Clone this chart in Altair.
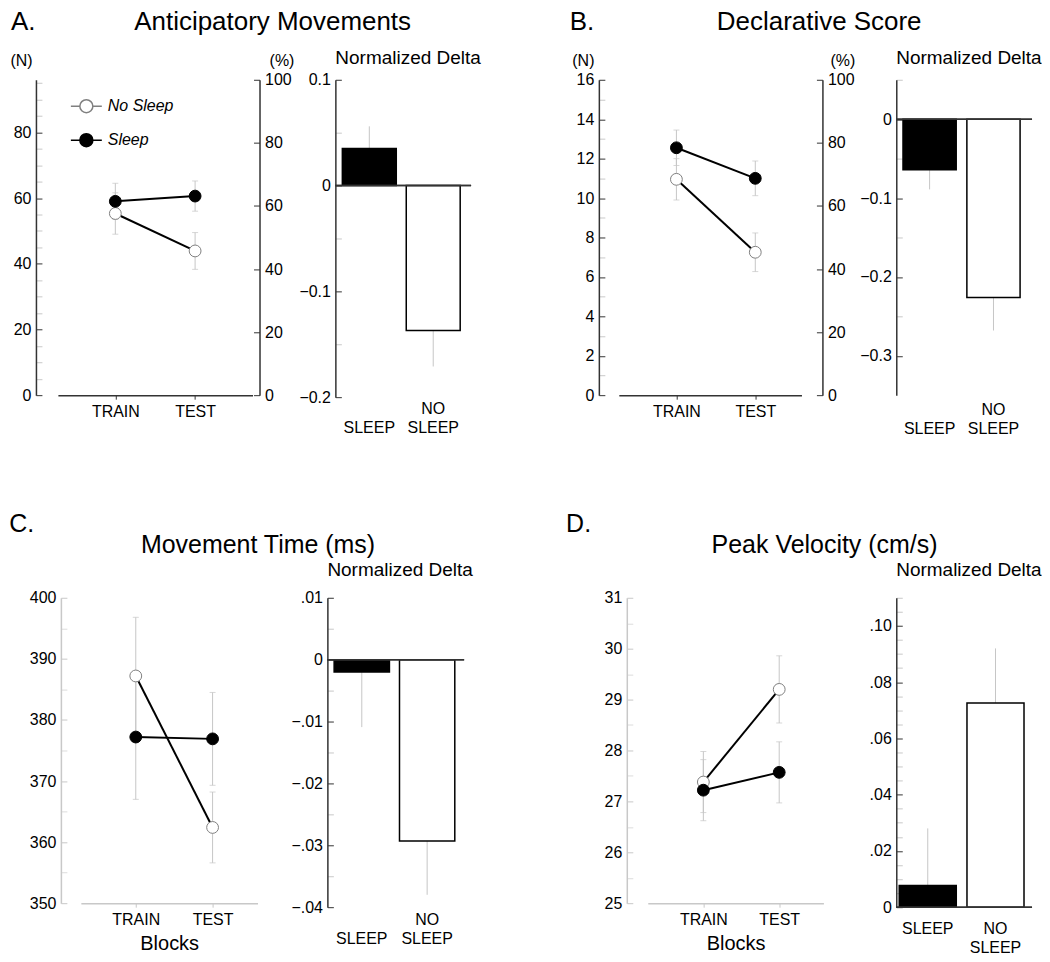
import altair as alt
import pandas as pd

FONT = "Liberation Sans"
NB = "\u00a0"
ZW = "\u200b"

blocks = ["TRAIN", "TEST"]
groups = ["No Sleep", "Sleep"]
conds = ["SLEEP", "NO SLEEP"]

# Panel A: Anticipatory Movements (N)
a_sleep = [59.0, 60.6]
a_sleep_err = [5.5, 4.6]
a_nosleep = [55.3, 43.9]
a_nosleep_err = [6.3, 5.6]
a_delta = [0.035, -0.137]
a_delta_err = [0.021, 0.034]

# Panel B: Declarative Score (N)
b_sleep = [12.55, 11.0]
b_sleep_err = [0.9, 0.88]
b_nosleep = [10.95, 7.25]
b_nosleep_err = [1.05, 0.98]
b_delta = [-0.064, -0.226]
b_delta_err = [0.025, 0.042]

# Panel C: Movement Time (ms)
c_sleep = [377.2, 376.9]
c_sleep_err = [10.2, 7.6]
c_nosleep = [387.2, 362.4]
c_nosleep_err = [9.6, 5.8]
c_delta = [-0.002, -0.0293]
c_delta_err = [0.0089, 0.0087]

# Panel D: Peak Velocity (cm/s)
d_sleep = [27.22, 27.57]
d_sleep_err = [0.6, 0.6]
d_nosleep = [27.38, 29.2]
d_nosleep_err = [0.6, 0.66]
d_delta = [0.0077, 0.0726]
d_delta_err = [0.0203, 0.0194]

TS = 6
LEG_PATH = ("M-1,0L-0.42,0M0.42,0L1,0M0.42,0A0.42,0.42,0,1,1,-0.42,0"
            "A0.42,0.42,0,1,1,0.42,0Z")


def ticks(lo, hi, step):
    n = int(round((hi - lo) / step))
    return [round(lo + i * step, 6) for i in range(n + 1)]


def major_test(major):
    return f"abs(datum.value/{major} - round(datum.value/{major})) < 1e-6"


def left_axis(width, gap, values, major, label_expr, dark, light, domain_color,
              title=None, title_x=0, title_y=0):
    d = dict(orient="right", offset=-(width + gap), values=values,
             labelExpr=f"{major_test(major)} ? ({label_expr}) : ''",
             labelAlign="right", labelPadding=-(TS + 5), labelOverlap=False,
             labelFontSize=16, labelColor="black", tickSize=TS, tickWidth=1,
             tickColor={"condition": {"test": major_test(major), "value": dark}, "value": light},
             domainColor=domain_color, domainWidth=1.5, grid=False)
    if title:
        d.update(title=title, titleX=title_x, titleY=title_y, titleAngle=0,
                 titleAlign="center", titleBaseline="middle", titleFontSize=16,
                 titleFontWeight="normal", titleColor="black")
    else:
        d["title"] = None
    return alt.Axis(**d)


def line_panel(sleep, sleep_err, nosleep, nosleep_err, width, height, ydom, yvals,
               major, pad, align, gap, dark, light, domain_color, n_title=False,
               title_x=-15, pct=None, legend=False, x_title=None):
    rows = []
    for g, vals, errs in (("No Sleep", nosleep, nosleep_err), ("Sleep", sleep, sleep_err)):
        for b, v, e in zip(blocks, vals, errs):
            rows.append(dict(block=b, group=g, value=v, lo=v - e, hi=v + e))
    df = pd.DataFrame(rows)
    x = alt.X("block:N", sort=blocks,
              scale=alt.Scale(type="point", padding=pad, align=align),
              axis=alt.Axis(title=x_title, labelAngle=0, domainColor=domain_color,
                            domainWidth=1.5, tickColor=domain_color, tickSize=4,
                            labelPadding=4, labelFontSize=16, labelColor="black",
                            titleFontSize=20, titleFontWeight="normal",
                            titlePadding=6, titleColor="black"))
    yscale = alt.Scale(domain=ydom, nice=False, zero=False)
    yaxis = left_axis(width, gap, yvals, major, "format(datum.value, '~g')",
                      dark, light, domain_color,
                      title="(N)" if n_title else None, title_x=title_x, title_y=-19)
    base = alt.Chart(df)
    err = base.mark_rule(color="#c6c6c6", strokeWidth=1).encode(
        x=x, y=alt.Y("lo:Q", scale=yscale, axis=yaxis), y2="hi:Q")
    cap_lo = base.mark_tick(color="#c6c6c6", size=6, thickness=1).encode(
        x=x, y=alt.Y("lo:Q", scale=yscale, axis=yaxis))
    cap_hi = base.mark_tick(color="#c6c6c6", size=6, thickness=1).encode(
        x=x, y=alt.Y("hi:Q", scale=yscale, axis=yaxis))
    line = base.mark_line(color="black", strokeWidth=2).encode(
        x=x, y=alt.Y("value:Q", scale=yscale, axis=yaxis), detail="group:N")
    if legend:
        leg = alt.Legend(orient="none", legendX=legend[0], legendY=legend[1], title=None,
                         symbolType=LEG_PATH, symbolSize=961, symbolStrokeWidth=1.5,
                         symbolStrokeColor="black", labelFontStyle="italic",
                         labelFontSize=16, labelColor="black", labelOffset=5,
                         rowPadding=7)
    else:
        leg = None
    pts = base.mark_point(shape="circle", size=140, opacity=1, strokeWidth=1).encode(
        x=x, y=alt.Y("value:Q", scale=yscale, axis=yaxis),
        fill=alt.Fill("group:N", scale=alt.Scale(domain=groups, range=["white", "black"]), legend=leg),
        stroke=alt.Stroke("group:N", scale=alt.Scale(domain=groups, range=["#808080", "black"]), legend=None))
    main = alt.layer(err, cap_lo, cap_hi, line, pts)
    if pct is not None:
        pax = alt.Axis(orient="left", offset=-(width + pct[0]), values=ticks(0, 100, 20),
                       labelAlign="left", labelPadding=-(TS + 5), labelFontSize=16,
                       labelColor="black", tickSize=TS, tickColor=dark, tickWidth=1,
                       domainColor=dark, domainWidth=1.5, grid=False,
                       title="(%)", titleX=pct[1], titleY=-19, titleAngle=0,
                       titleAlign="center", titleBaseline="middle", titleFontSize=16,
                       titleFontWeight="normal", titleColor="black")
        pl = base.transform_calculate(pct=f"datum.value / {ydom[1]} * 100").mark_point(opacity=0).encode(
            x=x, y=alt.Y("pct:Q", scale=alt.Scale(domain=[0, 100], nice=False), axis=pax))
        main = alt.layer(main, pl).resolve_scale(y="independent")
    return main.properties(width=width, height=height)


def bar_panel(vals, errs, width, height, ydom, yvals, major, label_expr,
              pi, po, align, xl_expr, xl_base, xl_pad, title_offset):
    df = pd.DataFrame({"cond": conds, "value": vals, "err": errs})
    df["end"] = [v + (e if v >= 0 else -e) for v, e in zip(vals, errs)]
    x = alt.X("cond:N", sort=conds,
              scale=alt.Scale(paddingInner=pi, paddingOuter=po, align=align),
              axis=alt.Axis(title=None, domain=False, ticks=False, tickSize=0,
                            labelAngle=0, labelExpr=xl_expr, labelBaseline=xl_base,
                            labelPadding=xl_pad, labelFontSize=16, labelLineHeight=19,
                            labelColor="black"))
    yscale = alt.Scale(domain=ydom, nice=False, zero=False)
    yaxis = left_axis(width, 0, yvals, major, label_expr, "#333", "#c8c8c8", "#333")
    base = alt.Chart(df)
    err = base.mark_rule(color="#c6c6c6", strokeWidth=1).encode(
        x=x, y=alt.Y("value:Q", scale=yscale, axis=yaxis), y2="end:Q")
    bars = base.mark_bar(stroke="black", strokeWidth=1.5).encode(
        x=x, y=alt.Y("value:Q", scale=yscale, axis=yaxis), y2=alt.datum(0),
        fill=alt.condition("datum.cond == 'SLEEP'", alt.value("black"), alt.value("white")))
    zero = base.mark_rule(color="#333", strokeWidth=1.5).encode(
        y=alt.Y(datum=0, scale=yscale, axis=yaxis))
    return alt.layer(err, bars, zero).properties(
        width=width, height=height,
        title=alt.TitleParams("Normalized Delta", anchor="start", frame="group",
                              fontSize=19, fontWeight="normal", color="black",
                              font=FONT, offset=title_offset))


XL_TWO = "datum.value == 'NO SLEEP' ? ['NO', 'SLEEP'] : ['', 'SLEEP']"
XL_MID = "datum.value == 'NO SLEEP' ? ['NO', 'SLEEP'] : 'SLEEP'"
FMT1 = "abs(datum.value) < 1e-9 ? '0' : format(datum.value, '.1f')"
FMT2 = "abs(datum.value) < 1e-9 ? '0' : replace(format(datum.value, '.2f'), '0.', '.')"

lineA = line_panel(a_sleep, a_sleep_err, a_nosleep, a_nosleep_err, 195, 316, [0, 96],
                   ticks(0, 95, 5), 20, 0.72, 0.5, 22, "#333", "#c8c8c8", "#333",
                   n_title=True, title_x=-15, pct=(7, 22), legend=(62, 10))
barA = bar_panel(a_delta, a_delta_err, 136, 318, [-0.2, 0.1], ticks(-0.2, 0.1, 0.05), 0.1,
                 FMT1, 0.156, 0.14, 0.39, XL_TWO, "top", 3, 4)
lineB = line_panel(b_sleep, b_sleep_err, b_nosleep, b_nosleep_err, 183, 316, [0, 16],
                   ticks(0, 16, 1), 2, 0.658, 0.555, 20, "#333", "#c8c8c8", "#333",
                   n_title=True, title_x=-16, pct=(21, 20))
barB = bar_panel(b_delta, b_delta_err, 136, 316, [-0.35, 0.05], ticks(-0.3, 0.05, 0.05), 0.1,
                 FMT1, 0.167, 0.146, 0.36, XL_TWO, "top", 6, 4)
lineC = line_panel(c_sleep, c_sleep_err, c_nosleep, c_nosleep_err, 177, 306, [350, 400],
                   ticks(350, 400, 5), 10, 0.65, 0.55, 20, "#c8c8c8", "#dcdcdc", "#c8c8c8",
                   x_title="Blocks")
barC = bar_panel(c_delta, c_delta_err, 137, 310, [-0.04, 0.01], ticks(-0.04, 0.01, 0.005), 0.01,
                 FMT2, 0.154, 0.123, 0.42, XL_TWO, "top", 4, 10)
lineD = line_panel(d_sleep, d_sleep_err, d_nosleep, d_nosleep_err, 176, 306, [25, 31],
                   ticks(25, 31, 0.5), 1, 0.658, 0.557, 21, "#c8c8c8", "#dcdcdc", "#c8c8c8",
                   x_title="Blocks")
barD = bar_panel(d_delta, d_delta_err, 136, 310, [0, 0.11], ticks(0, 0.11, 0.005), 0.02,
                 FMT2, 0.158, 0.081, 0.27, XL_MID, "middle", 21, 10)


def gtitle(text, size, offset, dx, line_height=None):
    kw = dict(anchor="start", frame="bounds", fontSize=size, fontWeight="normal",
              color="black", font=FONT, offset=offset, dx=dx)
    if line_height:
        kw["lineHeight"] = line_height
    return alt.TitleParams(text, **kw)


def spacer():
    return alt.Chart(pd.DataFrame({"s": [0]})).mark_point(
        opacity=0, size=0, strokeWidth=0
    ).encode(x=alt.value(0), y=alt.value(0)).properties(width=1, height=1)


groupA = alt.hconcat(lineA, barA, spacing=4).properties(
    title=gtitle("A." + NB * 13 + "\u2009Anticipatory Movements", 26, 14, 1))
groupB = alt.hconcat(lineB, barB, spacing=4).properties(
    title=gtitle("B." + NB * 17 + "Declarative Score", 26, 14, -2))
groupC = alt.hconcat(lineC, barC, spacing=33).properties(
    title=gtitle(["C.", ZW + NB * 19 + "Movement Time (ms)"], 25, 3, -20, 21))
groupD = alt.hconcat(lineD, barD, spacing=45).properties(
    title=gtitle(["D.", ZW + NB * 21 + "Peak Velocity (cm/s)"], 25, 3, -38, 21))

top_row = alt.hconcat(spacer(), alt.hconcat(groupA, groupB, spacing=88), spacing=0)
bottom_row = alt.hconcat(spacer(), alt.hconcat(groupC, groupD, spacing=93), spacing=0)

chart = alt.concat(top_row, bottom_row, columns=1, spacing=76, align="none").properties(
    padding={"left": 0, "top": 0, "right": 0, "bottom": 0}
).configure(font=FONT).configure_view(stroke=None).configure_axis(
    labelFont=FONT, titleFont=FONT, grid=False
).configure_title(font=FONT, color="black", fontWeight="normal")

chart.save("out.html", embed_options={"renderer": "svg", "actions": False})
